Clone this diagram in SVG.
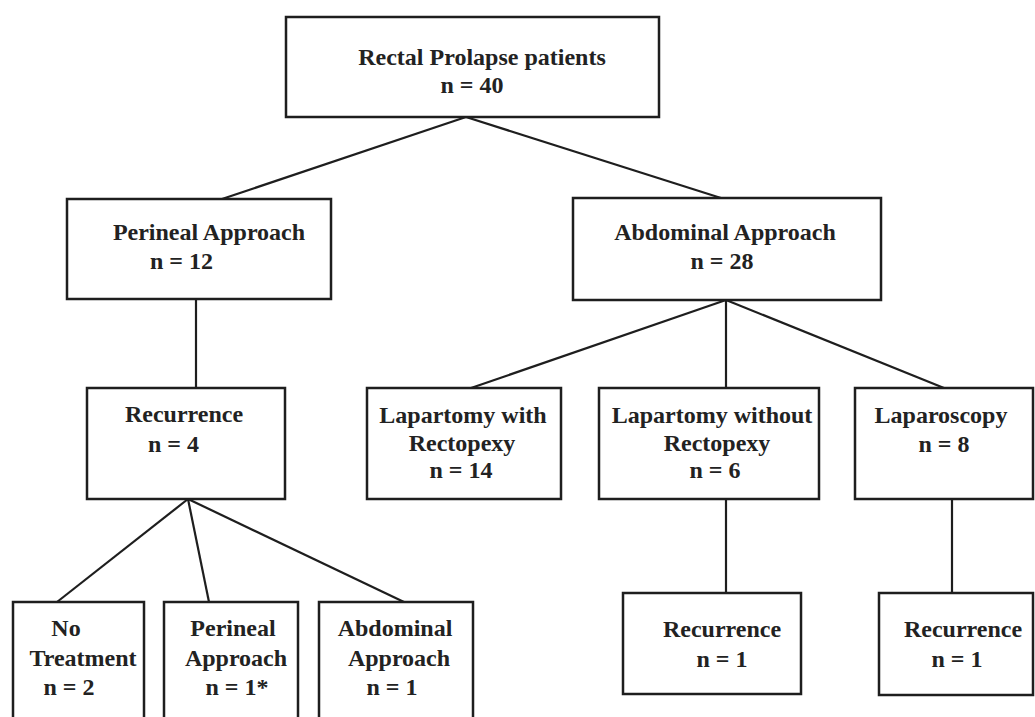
<svg xmlns="http://www.w3.org/2000/svg" width="1035" height="717" viewBox="0 0 1035 717">
<style>
.box{fill:#fff;stroke:#1e1e1e;stroke-width:2.5}
.t{font-family:"Liberation Serif","Times New Roman",serif;font-weight:bold;font-size:24px;fill:#222;text-anchor:middle}
.s{text-anchor:start}
.c{stroke:#1e1e1e;stroke-width:2.2;fill:none}
</style>
<rect width="1035" height="717" fill="#fff"/>
<g id="connectors">
<line class="c" x1="466" y1="117" x2="222" y2="199"/>
<line class="c" x1="466" y1="117" x2="721" y2="198"/>
<line class="c" x1="196" y1="299" x2="196" y2="388"/>
<line class="c" x1="726" y1="300" x2="471" y2="388"/>
<line class="c" x1="726" y1="300" x2="726" y2="388"/>
<line class="c" x1="726" y1="300" x2="944" y2="388"/>
<line class="c" x1="188" y1="499" x2="57" y2="602"/>
<line class="c" x1="188" y1="499" x2="209" y2="602"/>
<line class="c" x1="188" y1="499" x2="404" y2="602"/>
<line class="c" x1="726" y1="499" x2="726" y2="593"/>
<line class="c" x1="952" y1="499" x2="952" y2="593"/>
</g>
<g id="n-root">
<rect class="box" x="286" y="17" width="373" height="100"/>
<text class="t" x="482" y="65">Rectal Prolapse patients</text>
<text class="t" x="472" y="93">n = 40</text>
</g>
<g id="n-perineal">
<rect class="box" x="67" y="199" width="264" height="100"/>
<text class="t" x="209" y="240">Perineal Approach</text>
<text class="t s" x="150" y="269">n = 12</text>
</g>
<g id="n-abdominal">
<rect class="box" x="573" y="198" width="308" height="102"/>
<text class="t" x="725" y="240">Abdominal Approach</text>
<text class="t" x="722" y="269">n = 28</text>
</g>
<g id="n-recurrence-left">
<rect class="box" x="87" y="388" width="198" height="111"/>
<text class="t" x="184" y="422">Recurrence</text>
<text class="t s" x="148" y="452">n = 4</text>
</g>
<g id="n-lap-with">
<rect class="box" x="367" y="388" width="194" height="111"/>
<text class="t" x="463" y="423">Lapartomy with</text>
<text class="t" x="462" y="451">Rectopexy</text>
<text class="t" x="461" y="478">n = 14</text>
</g>
<g id="n-lap-without">
<rect class="box" x="599" y="388" width="220" height="111"/>
<text class="t" x="712" y="423">Lapartomy without</text>
<text class="t" x="717" y="451">Rectopexy</text>
<text class="t" x="715" y="478">n = 6</text>
</g>
<g id="n-laparoscopy">
<rect class="box" x="855" y="388" width="178" height="111"/>
<text class="t" x="941" y="423">Laparoscopy</text>
<text class="t" x="944" y="452">n = 8</text>
</g>
<g id="n-no-treatment">
<rect class="box" x="13" y="602" width="131" height="120"/>
<text class="t" x="66" y="636">No</text>
<text class="t" x="83" y="666">Treatment</text>
<text class="t" x="69" y="695">n = 2</text>
</g>
<g id="n-perineal-2">
<rect class="box" x="164" y="602" width="134" height="120"/>
<text class="t" x="233" y="636">Perineal</text>
<text class="t" x="236" y="666">Approach</text>
<text class="t" x="237" y="695">n = 1*</text>
</g>
<g id="n-abdominal-2">
<rect class="box" x="319" y="602" width="154" height="120"/>
<text class="t" x="395" y="636">Abdominal</text>
<text class="t" x="399" y="666">Approach</text>
<text class="t" x="392" y="695">n = 1</text>
</g>
<g id="n-recurrence-mid">
<rect class="box" x="623" y="593" width="178" height="101"/>
<text class="t" x="722" y="637">Recurrence</text>
<text class="t" x="722" y="667">n = 1</text>
</g>
<g id="n-recurrence-right">
<rect class="box" x="879" y="593" width="154" height="102"/>
<text class="t" x="963" y="637">Recurrence</text>
<text class="t" x="957" y="667">n = 1</text>
</g>
</svg>
